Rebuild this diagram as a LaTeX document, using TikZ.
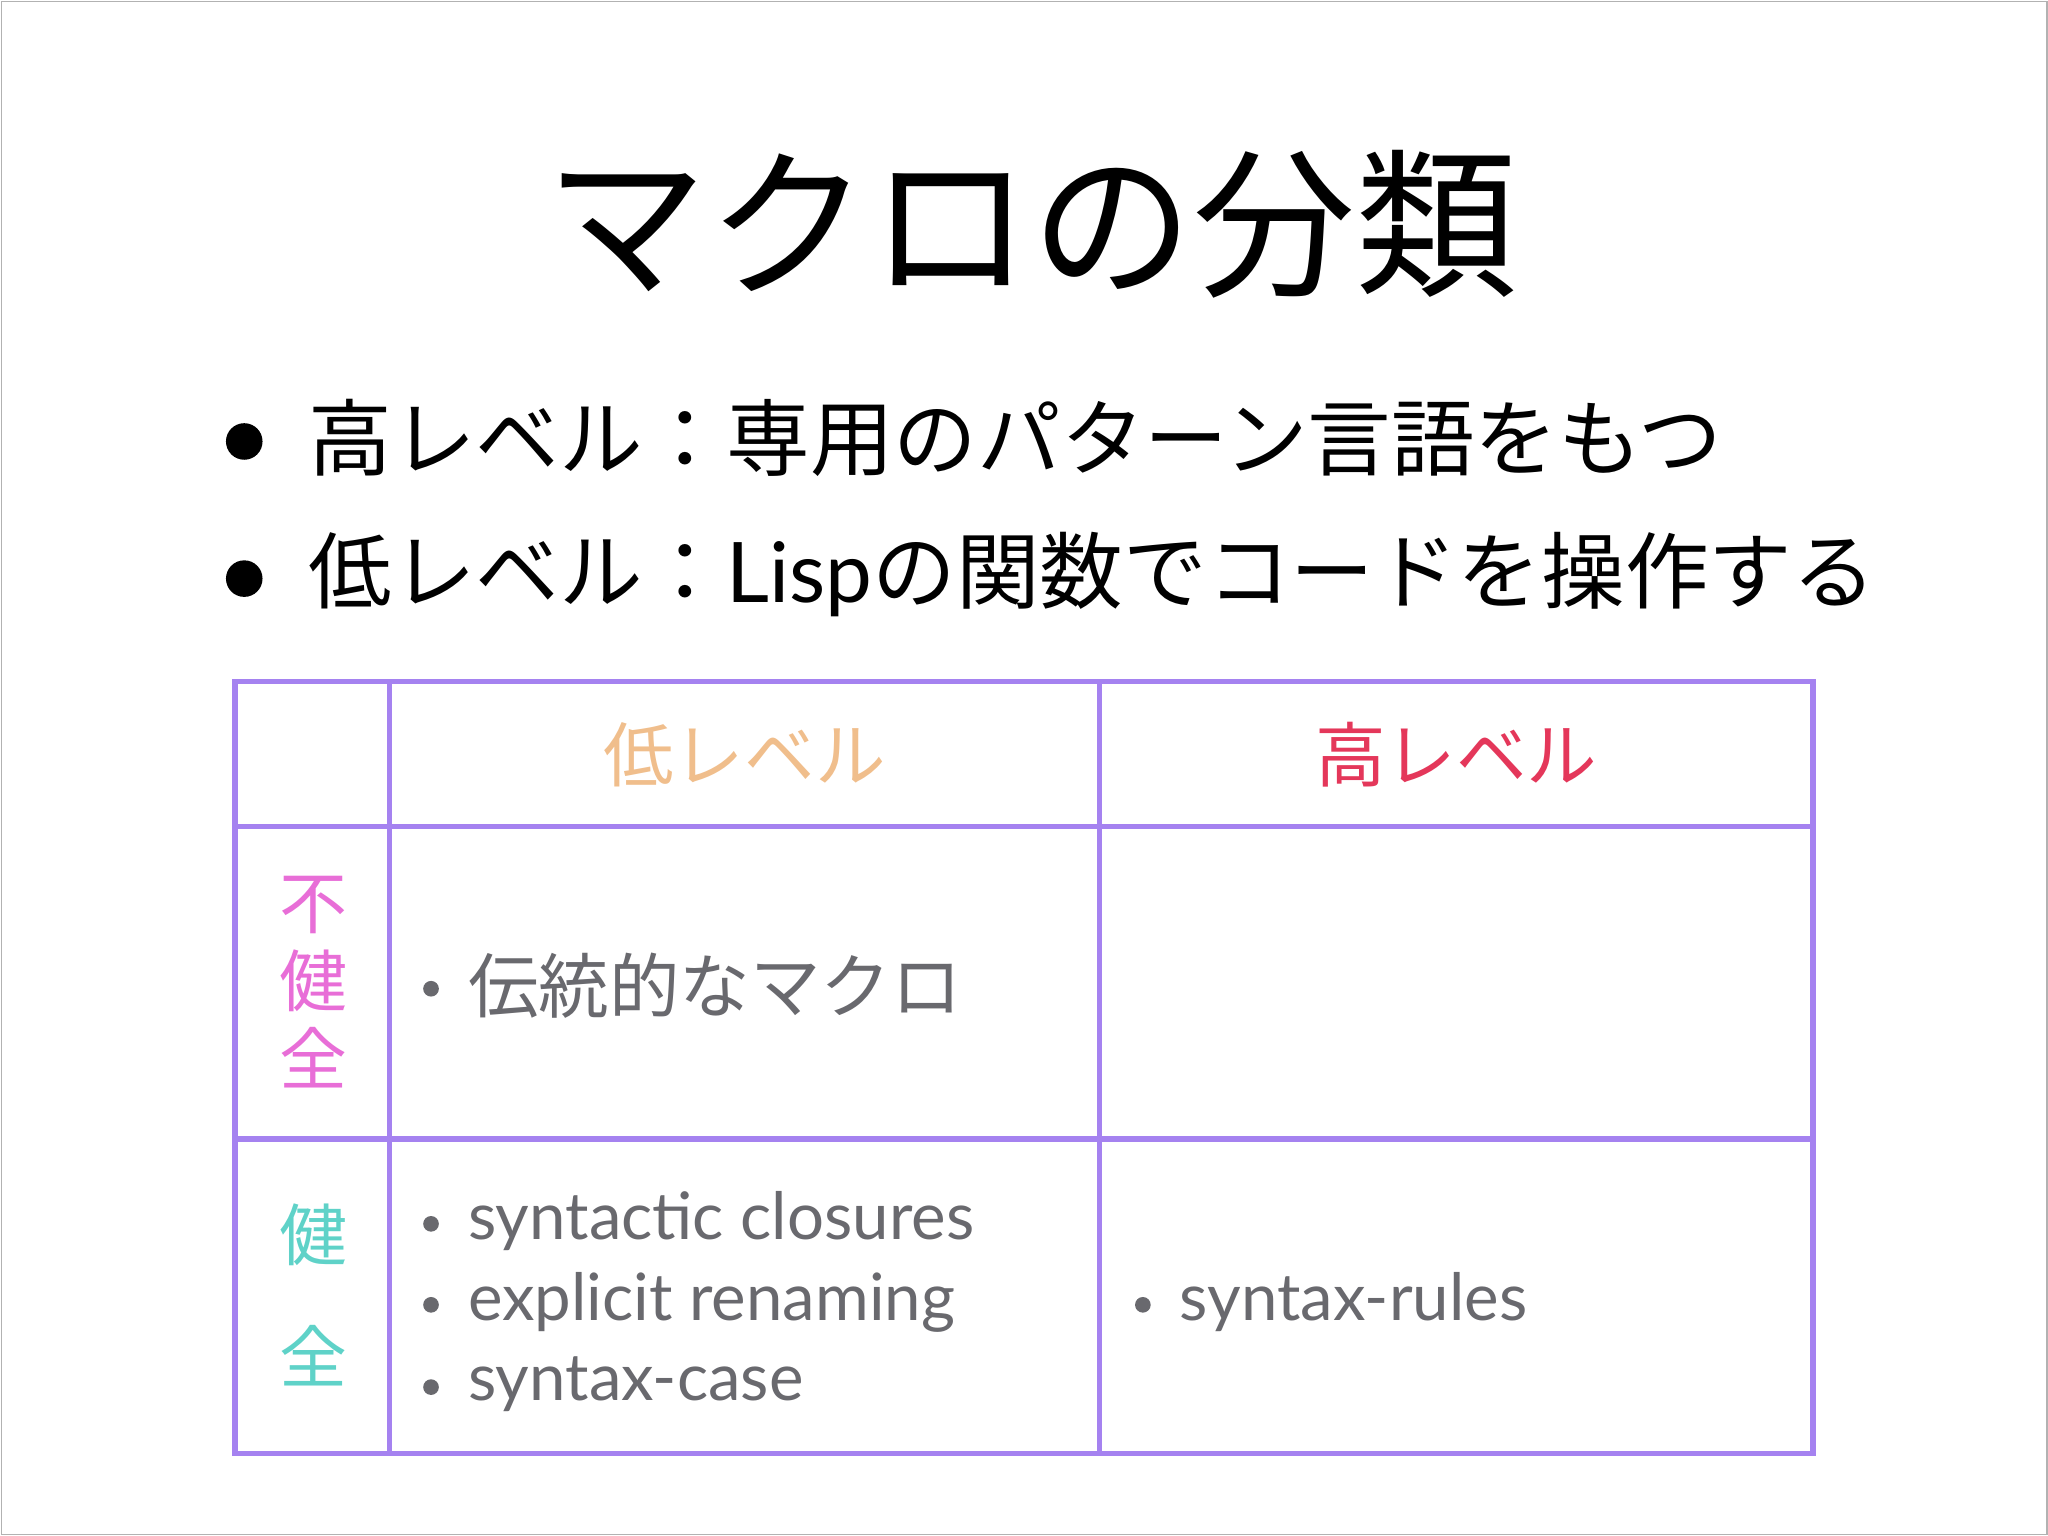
\documentclass[tikz,border=0pt]{standalone}
\usepackage{fontspec}
\setmainfont{Lato}
\newfontfamily\jp{Noto Sans CJK JP}[Scale=1]
\definecolor{grid}{RGB}{165,130,240}
\definecolor{low}{RGB}{240,190,140}
\definecolor{high}{RGB}{228,55,90}
\definecolor{unh}{RGB}{232,110,215}
\definecolor{hyg}{RGB}{95,210,200}
\definecolor{cell}{RGB}{105,105,110}
\begin{document}
\begin{tikzpicture}[x=0.5pt,y=-0.5pt,
  gridline/.style={draw=grid,line width=2pt},
  celltxt/.style={anchor=west,text=cell,font=\fontsize{25}{28}\selectfont,inner sep=0},
  dot/.style={circle,fill=black,inner sep=0,minimum size=14pt},
  sdot/.style={circle,fill=cell,inner sep=0,minimum size=6pt},
  bul/.style={anchor=west,font=\jp\fontsize{32}{36}\selectfont,inner sep=0}]
\useasboundingbox (0,0) rectangle (1568,1176);
\draw[gray!60,line width=0.6pt] (1,1) rectangle (1567,1175);
\node (title) at (790,172) {\jp\fontsize{62}{70}\selectfont マクロの分類};
\node[dot] (d1) at (187,338) {};
\node[dot] (d2) at (187,443) {};
\node[bul] (b1) at (236,335) {高レベル：専用のパターン言語をもつ};
\node[bul] (b2) at (236,440) {低レベル：{\rmfamily Lisp}の関数でコードを操作する};
% table
\draw[gridline] (180,522) rectangle (1388,1113);
\foreach \x in {298,842} \draw[gridline] (\x,522) -- (\x,1113);
\foreach \y in {633,872} \draw[gridline] (180,\y) -- (1388,\y);
\node[text=low,font=\jp\fontsize{27}{30}\selectfont] (hl) at (570,578) {低レベル};
\node[text=high,font=\jp\fontsize{27}{30}\selectfont] (hh) at (1115,578) {高レベル};
\node[text=unh,font=\jp\fontsize{26}{32}\selectfont,align=center] (ru) at (240,752) {不\\[-2pt]健\\[-2pt]全};
\node[text=hyg,font=\jp\fontsize{26}{32}\selectfont] (rh1) at (240,945) {健};
\node[text=hyg,font=\jp\fontsize{26}{32}\selectfont] (rh2) at (240,1038) {全};
\node[sdot] (s1) at (330,757) {};
\node[celltxt,font=\jp\fontsize{27}{30}\selectfont] (c1) at (358,755) {伝統的なマクロ};
\foreach \y/\n in {937/s2,999/s3,1062/s4} \node[sdot] (\n) at (330,\y) {};
\node[sdot] (s5) at (875,999) {};
\node[celltxt] (c2) at (358,935) {syntactic closures};
\node[celltxt] (c3) at (358,997) {explicit renaming};
\node[celltxt] (c4) at (358,1060) {syntax-case};
\node[celltxt] (c5) at (903,997) {syntax-rules};
\end{tikzpicture}
\end{document}
